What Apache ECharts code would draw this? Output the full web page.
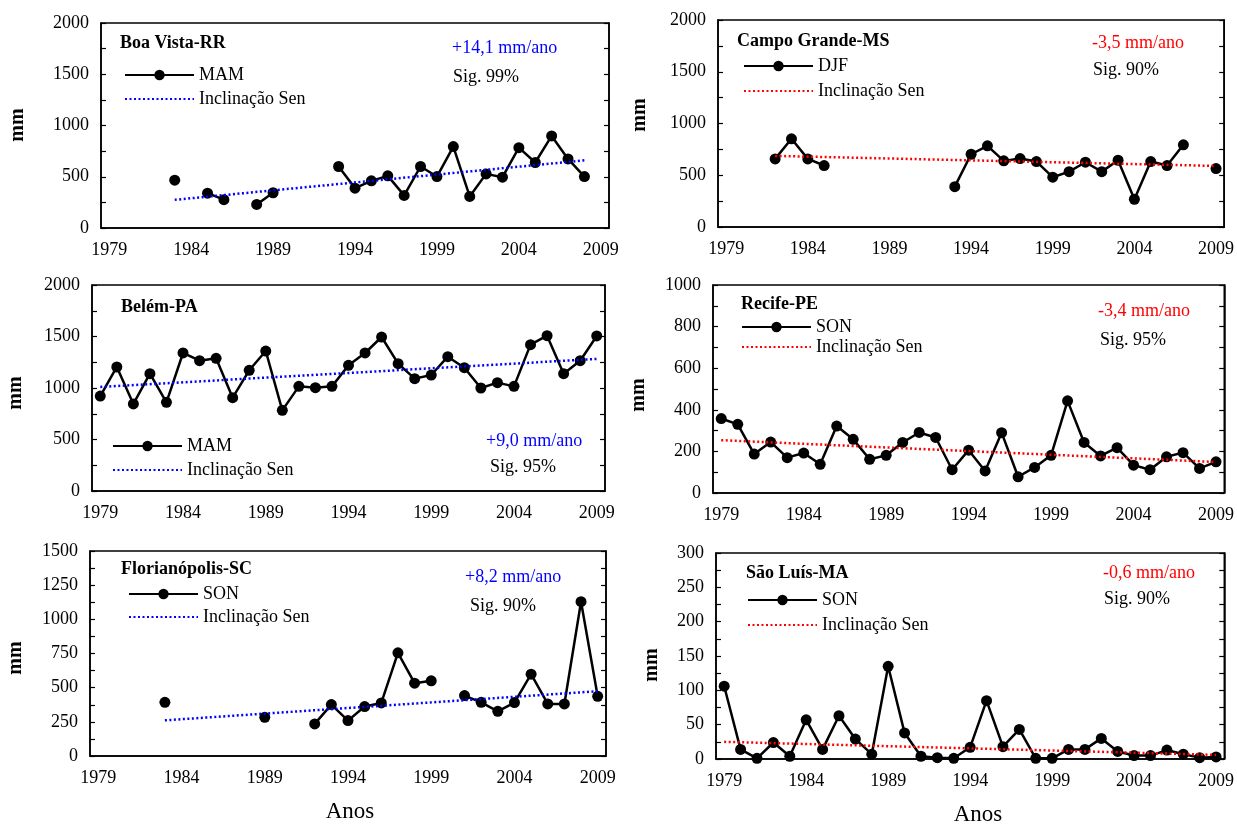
<!DOCTYPE html>
<html>
<head>
<meta charset="utf-8">
<script src="https://cdn.jsdelivr.net/npm/echarts@6/dist/echarts.min.js"></script>
<style>
html,body{margin:0;padding:0;background:#fff;}
#chart{width:1237px;height:826px;}
</style>
</head>
<body>
<div id="chart"></div>
<script>
// ---------- DATA ----------
const years = ['1979','1980','1981','1982','1983','1984','1985','1986','1987','1988','1989','1990','1991','1992','1993','1994','1995','1996','1997','1998','1999','2000','2001','2002','2003','2004','2005','2006','2007','2008','2009'];

const boaVista = [null,null,null,null,467,null,340,276,null,230,344,null,null,null,600,389,460,509,318,600,502,794,308,528,496,784,639,898,674,502,null];
const boaVistaSen = [null,null,null,null,275,null,null,null,null,null,null,null,null,null,null,null,null,null,null,null,null,null,null,null,null,null,null,null,null,660,null];

const campoGrande = [null,null,null,658,852,658,594,null,null,null,null,null,null,null,390,703,784,639,661,632,481,535,626,535,645,268,632,594,794,null,565];
const campoGrandeSen = [null,null,null,687,null,null,null,null,null,null,null,null,null,null,null,null,null,null,null,null,null,null,null,null,null,null,null,null,null,null,590];

const belem = [922,1204,845,1139,861,1340,1265,1288,906,1172,1359,783,1016,1003,1016,1220,1340,1495,1236,1091,1126,1304,1197,1000,1052,1016,1421,1508,1139,1265,1505];
const belemSen = [1010,null,null,null,null,null,null,null,null,null,null,null,null,null,null,null,null,null,null,null,null,null,null,null,null,null,null,null,null,null,1282];

const recife = [358,330,187,245,170,192,138,322,258,162,181,243,291,267,112,206,106,290,78,123,181,443,243,178,218,134,112,174,194,118,150];
const recifeSen = [254,null,null,null,null,null,null,null,null,null,null,null,null,null,null,null,null,null,null,null,null,null,null,null,null,null,null,null,null,null,149];

const florianopolis = [null,null,null,null,393,null,null,null,null,null,283,null,null,235,376,259,362,388,755,533,550,null,442,393,327,391,599,381,381,1129,437];
const florianopolisSen = [null,null,null,null,261,null,null,null,null,null,null,null,null,null,null,null,null,null,null,null,null,null,null,null,null,null,null,null,null,null,474];

const saoLuis = [106,14,1,24,4,57,14,63,29,7,135,38,4,2,1,17,85,18,43,1,1,14,14,30,11,5,5,13,7,2,3];
const saoLuisSen = [25,null,null,null,null,null,null,null,null,null,null,null,null,null,null,null,null,null,null,null,null,null,null,null,null,null,null,null,null,null,6];

const stations = ['Boa Vista-RR','Campo Grande-MS','Belém-PA','Recife-PE','Florianópolis-SC','São Luís-MA'];
const seasons = ['MAM','DJF','MAM','SON','SON','SON'];
const trendTexts = ['+14,1 mm/ano','-3,5 mm/ano','+9,0 mm/ano','-3,4 mm/ano','+8,2 mm/ano','-0,6 mm/ano'];
const sigTexts = ['Sig. 99%','Sig. 90%','Sig. 95%','Sig. 95%','Sig. 90%','Sig. 90%'];
const yMax = [2000,2000,2000,1000,1500,300];
const yStep = [500,500,500,200,250,50];
const seriesValues = [boaVista,campoGrande,belem,recife,florianopolis,saoLuis];
const senValues = [boaVistaSen,campoGrandeSen,belemSen,recifeSen,florianopolisSen,saoLuisSen];
const senLabel = 'Inclinação Sen';
const axisTitleY = 'mm';
const axisTitleX = 'Anos';

// ---------- LAYOUT ----------
const FONT = '"Liberation Serif", "Times New Roman", serif';
const BLUE = '#0000ff', RED = '#ff0000';
const senColors = [BLUE, RED, BLUE, RED, BLUE, RED];
const grids = [
  {left:101, top:23, width:508, height:205},
  {left:718, top:20, width:509, height:207},
  {left:92,  top:285, width:513, height:206},
  {left:713, top:285, width:512, height:208},
  {left:90,  top:551, width:516, height:205},
  {left:716, top:553, width:514, height:206}
];
const legendPos = [
  {left:124, top:66, gap:6},
  {left:743, top:57, gap:7},
  {left:112, top:437, gap:6},
  {left:741, top:318, gap:2},
  {left:128, top:585, gap:5},
  {left:747, top:591, gap:7}
];
const titlePos = [[120,43],[737,41],[121,307],[741,304],[121,569],[746,573]];
const trendPos = [[452,48],[1092,43],[486,441],[1098,311],[465,577],[1103,573]];
const sigPos = [[453,77],[1093,70],[490,467],[1100,340],[470,606],[1104,599]];
const mmPos = [[18,125],[640,115],[16,393],[639,395],[16,658],[652,665]];
const anosPos = [[350,812],[978,815]];

const axisLineStyle = {color:'#000', width:1.5};
const option = {
  animation:false,
  backgroundColor:'#fff',
  grid:[], xAxis:[], yAxis:[], series:[], legend:[], graphic:[]
};

grids.forEach((g, i) => {
  option.grid.push(Object.assign({show:true, borderColor:'#000', borderWidth:1.5, backgroundColor:'transparent'}, g));
  option.xAxis.push({
    type:'category', gridIndex:i, data:years, boundaryGap:true,
    axisLine:{lineStyle:axisLineStyle},
    axisTick:{inside:true, interval:0, length:6, lineStyle:{color:'#000', width:1.2}},
    axisLabel:{interval:4, margin:13, color:'#000', fontFamily:FONT, fontSize:18},
    splitLine:{show:false}
  });
  const yCommon = {
    type:'value', gridIndex:i, min:0, max:yMax[i], interval:yStep[i],
    axisLine:{show:true, lineStyle:axisLineStyle},
    axisTick:{show:true, inside:true, length:5, lineStyle:{color:'#000', width:1.2}},
    minorTick:{show:true, splitNumber:2, length:5, lineStyle:{color:'#000', width:1.2}},
    splitLine:{show:false}, minorSplitLine:{show:false}
  };
  option.yAxis.push(Object.assign({}, yCommon, {
    position:'left',
    axisLabel:{margin:12, color:'#000', fontFamily:FONT, fontSize:18, formatter:(v) => String(v)}
  }));
  option.yAxis.push(Object.assign({}, yCommon, {
    position:'right', axisLabel:{show:false}
  }));
  const sName = seasons[i] + '|' + i;
  const tName = senLabel + '|' + i;
  option.series.push({
    name:sName, type:'line', xAxisIndex:i, yAxisIndex:2*i, data:seriesValues[i],
    connectNulls:false, symbol:'circle', symbolSize:11, showSymbol:true, showAllSymbol:true,
    lineStyle:{color:'#000', width:2.5}, itemStyle:{color:'#000'}, z:3
  });
  option.series.push({
    name:tName, type:'line', xAxisIndex:i, yAxisIndex:2*i, data:senValues[i],
    connectNulls:true, symbol:'none',
    lineStyle:{color:senColors[i], width:2.5, type:[2,2.5], cap:'butt'},
    itemStyle:{color:senColors[i]}, z:4
  });
  option.legend.push({
    orient:'vertical', left:legendPos[i].left, top:legendPos[i].top,
    itemGap:legendPos[i].gap, itemWidth:69, itemHeight:13, padding:0,
    selectedMode:false,
    data:[{name:sName}, {name:tName, itemStyle:{opacity:0}}],
    formatter:(n) => n.split('|')[0],
    textStyle:{fontFamily:FONT, fontSize:18, color:'#000'}
  });
  option.graphic.push({type:'text', x:titlePos[i][0], y:titlePos[i][1],
    style:{text:stations[i], font:'bold 18px ' + FONT, fill:'#000', textVerticalAlign:'middle'}});
  option.graphic.push({type:'text', x:trendPos[i][0], y:trendPos[i][1],
    style:{text:trendTexts[i], font:'18px ' + FONT, fill:senColors[i], textVerticalAlign:'middle'}});
  option.graphic.push({type:'text', x:sigPos[i][0], y:sigPos[i][1],
    style:{text:sigTexts[i], font:'18px ' + FONT, fill:'#000', textVerticalAlign:'middle'}});
  option.graphic.push({type:'text', x:mmPos[i][0], y:mmPos[i][1], rotation:Math.PI/2,
    style:{text:axisTitleY, font:'bold 20px ' + FONT, fill:'#000', textAlign:'center', textVerticalAlign:'middle'}});
});
anosPos.forEach(p => {
  option.graphic.push({type:'text', x:p[0], y:p[1],
    style:{text:axisTitleX, font:'23px ' + FONT, fill:'#000', textAlign:'center', textVerticalAlign:'middle'}});
});

const chart = echarts.init(document.getElementById('chart'), null, {renderer:'canvas'});
chart.setOption(option);
</script>
</body>
</html>
